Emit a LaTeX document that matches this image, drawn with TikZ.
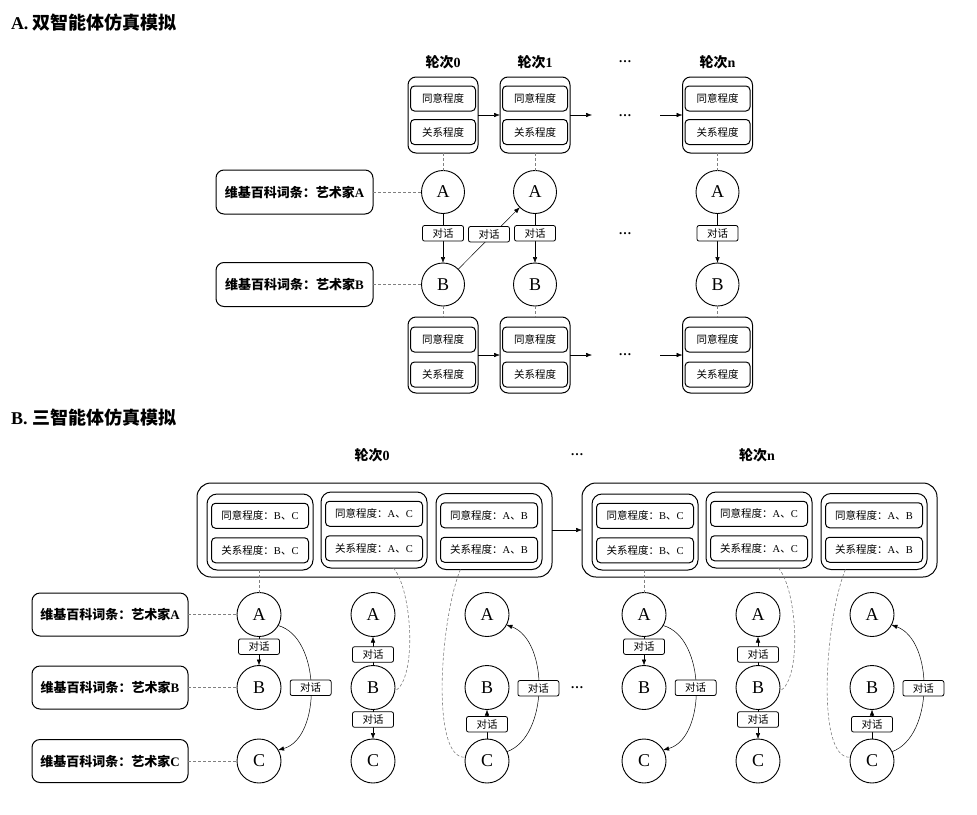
\documentclass[tikz,border=0pt]{standalone}
\usepackage{fontspec}
\setmainfont{Liberation Serif}
\newfontfamily\zh{Noto Sans CJK SC}
\usetikzlibrary{arrows.meta}
\newcommand\fsz[1]{\fontsize{#1}{#1}\selectfont}
\begin{document}
\begin{tikzpicture}[x=1pt,y=1pt,
  every node/.style={inner sep=0pt,outer sep=0pt},
  circ/.style={circle,draw,line width=0.9pt,fill=white,minimum size=43pt,font=\fsz{18}},
  inb/.style={draw,rounded corners=4pt,line width=1pt,minimum width=65pt,minimum height=25pt,font=\fsz{10.5}},
  inbw/.style={inb,minimum width=97pt},
  cont/.style={draw,rounded corners=8pt,line width=1pt,minimum width=70pt,minimum height=76pt},
  subc/.style={draw,rounded corners=10pt,line width=1pt,minimum width=106pt,minimum height=76pt},
  bigc/.style={draw,rounded corners=14pt,line width=1pt,minimum height=94pt},
  wiki/.style={draw,rounded corners=8pt,line width=1pt,minimum width=157pt,minimum height=44pt,font=\fsz{13}\bfseries},
  lbl/.style={draw,fill=white,rounded corners=2pt,line width=0.8pt,minimum width=41pt,minimum height=15.5pt,font=\fsz{10.5}\zh},
  hdr/.style={font=\fsz{14}\bfseries},
  dots/.style={font=\fsz{13}\bfseries},
  ttl/.style={font=\fsz{18}\bfseries,anchor=west},
  dsh/.style={densely dashed,gray,line width=0.6pt},
  arr/.style={-{Latex[length=6pt,width=4.5pt]},line width=0.5pt},
]
\path[use as bounding box] (0,0) rectangle (977,-814);

% ---------------- Section A ----------------
\node[ttl] (tA) at (11,-23) {A. {\zh 双智能体仿真模拟}};

\foreach \x/\q in {443/0, 535/1, 717.5/n} {
  \node[hdr] (h\q) at (\x,-62) {{\zh 轮次}\q};
  \node[cont] (t\q) at (\x,-115) {};
  \node[inb] (ta\q) at (\x,-98.5) {\zh 同意程度};
  \node[inb] (tb\q) at (\x,-132) {\zh 关系程度};
  \node[circ] (A\q) at (\x,-192) {A};
  \node[circ] (B\q) at (\x,-284.5) {B};
  \node[cont] (b\q) at (\x,-355) {};
  \node[inb] (ba\q) at (\x,-339.5) {\zh 同意程度};
  \node[inb] (bb\q) at (\x,-374.5) {\zh 关系程度};
  \draw[dsh] (t\q) -- (A\q);
  \draw[dsh] (B\q) -- (b\q);
  \draw[arr] (A\q) -- node[lbl,pos=.4]{对话} (B\q);
}

\node[wiki] (wA) at (294.5,-192) {{\zh 维基百科词条：艺术家}A};
\node[wiki] (wB) at (294.5,-284.5) {{\zh 维基百科词条：艺术家}B};
\draw[dsh] (wA) -- (A0);
\draw[dsh] (wB) -- (B0);

\draw[arr] (B0) -- node[lbl,pos=.5,yshift=4pt]{对话} (A1);

\coordinate (ta) at (592,-115);
\coordinate (tb) at (660,-115);
\coordinate (ba) at (592,-355);
\coordinate (bb) at (660,-355);
\draw[arr] (t0) -- (t1);
\draw[arr] (t1) -- (ta);
\draw[arr] (tb) -- (tn);
\draw[arr] (b0) -- (b1);
\draw[arr] (b1) -- (ba);
\draw[arr] (bb) -- (bn);

\node[dots] (d1) at (625,-62) {…};
\node[dots] (d2) at (625,-116) {…};
\node[dots] (d3) at (625,-234) {…};
\node[dots] (d4) at (625,-355) {…};

% ---------------- Section B ----------------
\node[ttl] (tB) at (11,-418) {B. {\zh 三智能体仿真模拟}};
\node[hdr] (hB0) at (372,-455) {{\zh 轮次}0};
\node[hdr] (hBn) at (757,-455) {{\zh 轮次}n};
\node[dots] (d5) at (577,-455) {…};
\node[dots] (d6) at (577,-688) {…};

\foreach \ox/\q in {0/z, 385/n} {
  \node[bigc,minimum width=355pt] (\q K) at (\ox+374.5,-530) {};
  \node[subc] (\q S1) at (\ox+260,-532) {};
  \node[subc] (\q S2) at (\ox+374,-530) {};
  \node[subc] (\q S3) at (\ox+489,-531.5) {};
  \node[inbw] (\q I1a) at (\ox+260,-515.75) {{\zh 同意程度：}B{\zh 、}C};
  \node[inbw] (\q I1b) at (\ox+260,-550.25) {{\zh 关系程度：}B{\zh 、}C};
  \node[inbw] (\q I2a) at (\ox+374,-513.75) {{\zh 同意程度：}A{\zh 、}C};
  \node[inbw] (\q I2b) at (\ox+374,-548.25) {{\zh 关系程度：}A{\zh 、}C};
  \node[inbw] (\q I3a) at (\ox+489,-515.25) {{\zh 同意程度：}A{\zh 、}B};
  \node[inbw] (\q I3b) at (\ox+489,-549.75) {{\zh 关系程度：}A{\zh 、}B};
  % column 1
  \node[circ,minimum size=44pt] (\q A1) at (\ox+259,-614.5) {A};
  \node[circ,minimum size=44pt] (\q B1) at (\ox+259,-687.5) {B};
  \node[circ,minimum size=44pt] (\q C1) at (\ox+259,-761) {C};
  % column 2
  \node[circ,minimum size=44pt] (\q A2) at (\ox+373,-614.5) {A};
  \node[circ,minimum size=44pt] (\q B2) at (\ox+373,-687.5) {B};
  \node[circ,minimum size=44pt] (\q C2) at (\ox+373,-761) {C};
  % column 3
  \node[circ,minimum size=44pt] (\q A3) at (\ox+487,-614.5) {A};
  \node[circ,minimum size=44pt] (\q B3) at (\ox+487,-687.5) {B};
  \node[circ,minimum size=44pt] (\q C3) at (\ox+487,-761) {C};
  % dashed links from memory boxes
  \draw[dsh] (\q S1.south -| \q A1.north) -- (\q A1.north);
  \draw[dsh] (\q S2.-63) to[out=-48,in=28,out distance=28pt,in distance=26pt] (\q B2.-10);
  \draw[dsh] (\q S3.-127) to[out=-112,in=184.5,out distance=54pt,in distance=35pt] (\q C3.170);
  % dialogue arrows
  \draw[arr] (\q A1) -- node[lbl,pos=.35]{对话} (\q B1);
  \draw[arr] (\q A1.-30) to[out=-15,in=15,out distance=45pt,in distance=45pt] node[lbl]{对话} (\q C1.30);
  \draw[arr] (\q B2) -- node[lbl,pos=.38]{对话} (\q A2);
  \draw[arr] (\q B2) -- node[lbl,pos=.34]{对话} (\q C2);
  \draw[arr] (\q C3) -- node[lbl,pos=.5]{对话} (\q B3);
  \draw[arr] (\q C3.25) to[out=20,in=-20,out distance=45pt,in distance=45pt] node[lbl]{对话} (\q A3.-28);
}
\draw[arr] (zK) -- (nK);

\node[wiki,minimum width=156pt,minimum height=43pt] (wA2) at (110,-614.5) {{\zh 维基百科词条：艺术家}A};
\node[wiki,minimum width=156pt,minimum height=43pt] (wB2) at (110,-687.5) {{\zh 维基百科词条：艺术家}B};
\node[wiki,minimum width=156pt,minimum height=43pt] (wC2) at (110,-761) {{\zh 维基百科词条：艺术家}C};
\draw[dsh] (wA2) -- (zA1);
\draw[dsh] (wB2) -- (zB1);
\draw[dsh] (wC2) -- (zC1);
\end{tikzpicture}
\end{document}
